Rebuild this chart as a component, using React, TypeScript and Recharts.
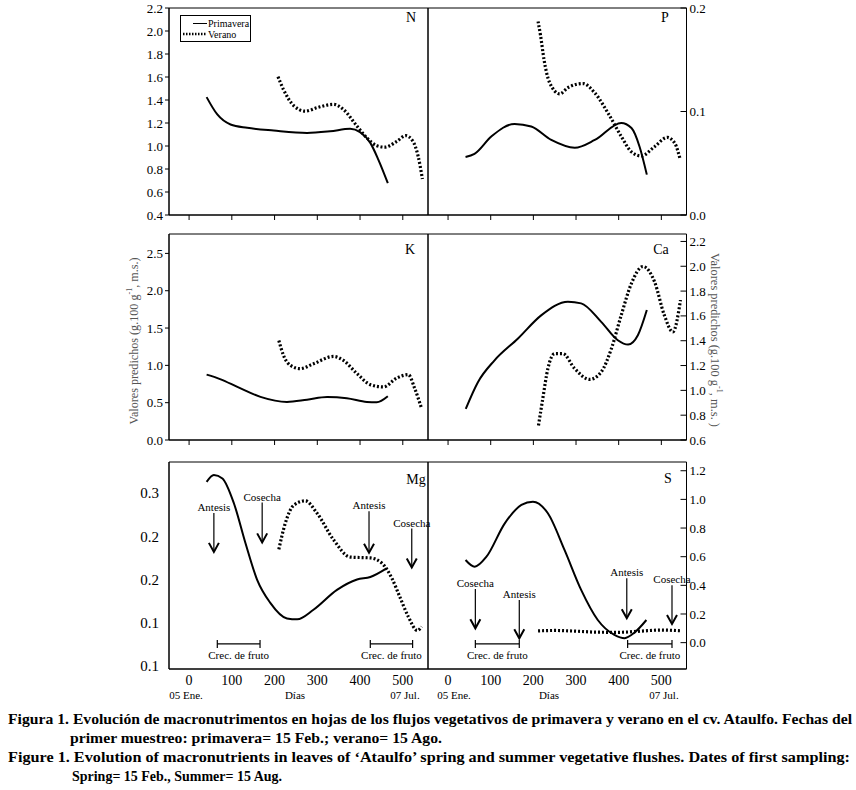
import React from 'react';
import { LineChart, Line, XAxis, YAxis, ReferenceArea, ReferenceLine } from 'recharts';

const FONT = 'Liberation Serif';
const X_DOMAIN: [number, number] = [-47, 559];
const dayTicks = [0, 100, 200, 300, 400, 500];

// N
const nSpringDays = [41, 66, 97, 136, 198, 276, 330, 377, 400, 424, 443, 465];
const nSpringVals = [1.425, 1.274, 1.187, 1.158, 1.134, 1.114, 1.128, 1.149, 1.12, 1.027, 0.88, 0.677];
const nSummerDays = [208, 221, 245, 272, 299, 338, 361, 393, 416, 439, 458, 486, 507, 524, 536, 546];
const nSummerVals = [1.603, 1.49, 1.35, 1.303, 1.333, 1.362, 1.318, 1.172, 1.07, 1.003, 0.99, 1.04, 1.09, 1.04, 0.91, 0.712];
const nTicks = [0.4, 0.6, 0.8, 1.0, 1.2, 1.4, 1.6, 1.8, 2.0, 2.2];

// P
const pSpringDays = [41, 62, 102, 156, 195, 242, 297, 344, 406, 430, 449, 466];
const pSpringVals = [0.056, 0.059, 0.076, 0.088, 0.0855, 0.0725, 0.065, 0.0725, 0.089, 0.084, 0.066, 0.039];
const pSummerDays = [211, 217, 225, 238, 262, 281, 316, 344, 375, 406, 430, 453, 484, 514, 532, 544];
const pSummerVals = [0.187, 0.173, 0.15, 0.128, 0.117, 0.123, 0.127, 0.118, 0.0985, 0.076, 0.061, 0.057, 0.066, 0.075, 0.069, 0.054];
const pTicks = [0, 0.1, 0.2];

// K
const kSpringDays = [41, 74, 113, 167, 229, 276, 323, 369, 416, 439, 465];
const kSpringVals = [0.876, 0.813, 0.711, 0.578, 0.51, 0.54, 0.575, 0.56, 0.51, 0.505, 0.585];
const kSummerDays = [210, 221, 237, 260, 291, 338, 361, 393, 424, 455, 486, 513, 528, 544];
const kSummerVals = [1.333, 1.133, 1.0, 0.956, 1.022, 1.12, 1.067, 0.889, 0.742, 0.711, 0.831, 0.876, 0.689, 0.422];
const kTicks = [0, 0.5, 1.0, 1.5, 2.0, 2.5];

// Ca
const caSpringDays = [41.5, 70, 109, 164, 219, 281, 312, 359, 398, 422, 445, 466];
const caSpringVals = [0.851, 1.066, 1.242, 1.418, 1.606, 1.714, 1.701, 1.552, 1.404, 1.369, 1.444, 1.647];
const caSummerDays = [212, 222, 234, 250, 269, 297, 332, 359, 383, 406, 430, 457, 484, 507, 527, 545];
const caSummerVals = [0.716, 0.932, 1.175, 1.296, 1.296, 1.175, 1.088, 1.148, 1.337, 1.606, 1.863, 1.998, 1.876, 1.606, 1.471, 1.728];
const caTicks = [0.6, 0.8, 1.0, 1.2, 1.4, 1.6, 1.8, 2.0, 2.2];

// Mg
const mgSpringDays = [41, 58, 78, 105, 132, 159, 190, 229, 253, 291, 346, 393, 424, 462];
const mgSpringVals = [0.263, 0.271, 0.267, 0.238, 0.192, 0.15, 0.123, 0.105, 0.104, 0.115, 0.138, 0.15, 0.153, 0.163];
const mgSummerDays = [210, 225, 245, 272, 299, 338, 377, 424, 451, 474, 493, 513, 534, 544];
const mgSummerVals = [0.185, 0.215, 0.236, 0.241, 0.227, 0.196, 0.176, 0.175, 0.169, 0.152, 0.13, 0.107, 0.091, 0.0955];
const mgTicks = [0.05, 0.1, 0.15, 0.2, 0.25];
const mgTickLabels = ['0.1', '0.1', '0.2', '0.2', '0.3'];

// S
const sSpringDays = [41, 62.5, 90, 133, 172, 199, 234, 273, 312, 351, 390, 414, 437, 465];
const sSpringVals = [0.577, 0.53, 0.6, 0.833, 0.961, 0.984, 0.903, 0.647, 0.368, 0.158, 0.054, 0.031, 0.07, 0.158];
const sSummerDays = [211, 250, 300, 350, 400, 450, 500, 544];
const sSummerVals = [0.082, 0.085, 0.08, 0.073, 0.072, 0.08, 0.088, 0.083];
const sTicks = [0, 0.2, 0.4, 0.6, 0.8, 1.0, 1.2];

// Phenology annotations
const mgArrowDays = [58, 171, 421, 521];
const mgArrowTops = [0.227, 0.239, 0.229, 0.209];
const mgArrowBottoms = [0.182, 0.193, 0.181, 0.164];
const mgArrowLabels = ['Antesis', 'Cosecha', 'Antesis', 'Cosecha'];
const mgBarStarts = [66, 424];
const mgBarEnds = [166, 523];
const mgBarLevel = 0.0755;

const sArrowDays = [64, 167, 419, 525];
const sArrowTops = [0.374, 0.298, 0.449, 0.401];
const sArrowBottoms = [0.1, 0.03, 0.17, 0.13];
const sArrowLabels = ['Cosecha', 'Antesis', 'Antesis', 'Cosecha'];
const sBarStarts = [64, 421];
const sBarEnds = [167, 525];
const sBarLevel = -0.009;

const zip = (d: number[], v: number[]) => d.map((day, i) => ({ day, v: v[i] }));

const fmt1 = (v: number) => v.toFixed(1);

const RightTick = (props: any) => {
  const { x, y, payload, fontSize } = props;
  const ax = x - 3;
  return (
    <g>
      <line x1={ax - 6} y1={y} x2={ax} y2={y} stroke="#000" strokeWidth={1} />
      <text x={x} y={y} dy="0.35em" textAnchor="start" fontSize={fontSize} fontFamily={FONT} fill="#000">
        {fmt1(payload.value)}
      </text>
    </g>
  );
};

const ArrowShape = (props: any) => {
  const { x1, y1, x2, y2, label } = props;
  return (
    <g>
      <line x1={x1} y1={y1} x2={x2} y2={y2} stroke="#000" strokeWidth={1.2} />
      <polyline points={`${x2 - 5},${y2 - 9} ${x2},${y2} ${x2 + 5},${y2 - 9}`} fill="none" stroke="#000" strokeWidth={2} />
      <text x={x1} y={y1 - 2} textAnchor="middle" fontSize={11} fontFamily={FONT} fill="#000">{label}</text>
    </g>
  );
};

const BarShape = (props: any) => {
  const { x1, y1, x2, y2 } = props;
  return (
    <g>
      <line x1={x1} y1={y1} x2={x2} y2={y2} stroke="#000" strokeWidth={1.2} />
      <line x1={x1} y1={y1 - 4} x2={x1} y2={y1 + 4} stroke="#000" strokeWidth={1.2} />
      <line x1={x2} y1={y2 - 4} x2={x2} y2={y2 + 4} stroke="#000" strokeWidth={1.2} />
      <text x={(x1 + x2) / 2} y={y1 + 15} textAnchor="middle" fontSize={11} fontFamily={FONT} fill="#000">Crec. de fruto</text>
    </g>
  );
};

type PanelProps = {
  side: 'left' | 'right';
  plotLeft: number;
  plotTop: number;
  plotW: number;
  plotH: number;
  yDomain: [number, number];
  yTicks: number[];
  yLabels?: string[];
  spring: { day: number; v: number }[];
  summer: { day: number; v: number }[];
  bottom?: boolean;
  yTickLine?: boolean;
  arrows?: { day: number; top: number; bottom: number; label: string }[];
  bars?: { start: number; end: number; level: number }[];
};

function Panel(p: PanelProps) {
  const YW = 50;
  const TOP = 10;
  const xAxisH = p.bottom ? 26 : 8;
  const margin = p.side === 'left' ? { top: TOP, right: 12, bottom: 0, left: 0 } : { top: TOP, right: 0, bottom: 0, left: 5 };
  const width = p.side === 'left' ? YW + p.plotW + 12 : 5 + p.plotW + YW;
  const height = TOP + p.plotH + xAxisH;
  const left = p.side === 'left' ? p.plotLeft - YW : p.plotLeft - 5;
  const tickFs = p.bottom ? 15 : 13;
  const yFormatter = (v: number, i: number) => (p.yLabels ? p.yLabels[i] : fmt1(v));
  return (
    <div style={{ position: 'absolute', left, top: p.plotTop - TOP }}>
      <LineChart width={width} height={height} margin={margin} style={{ fontFamily: FONT }}>
        <XAxis
          type="number"
          dataKey="day"
          domain={X_DOMAIN}
          ticks={dayTicks}
          interval={0}
          allowDataOverflow
          height={xAxisH}
          axisLine={{ stroke: '#000' }}
          tickLine={p.bottom ? false : { stroke: '#000' }}
          tickSize={p.bottom ? 0 : 5}
          tickMargin={p.bottom ? 6 : 0}
          tickFormatter={p.bottom ? (v: number) => String(v) : () => ''}
          tick={{ fontSize: 14, fill: '#000', fontFamily: FONT }}
        />
        {p.side === 'left' ? (
          <YAxis
            type="number"
            orientation="left"
            width={YW}
            domain={p.yDomain}
            ticks={p.yTicks}
            interval={0}
            allowDataOverflow
            axisLine={{ stroke: '#000' }}
            tickLine={p.yTickLine === false ? false : { stroke: '#000' }}
            tickSize={p.yTickLine === false ? 0 : 4}
            tickMargin={p.yTickLine === false ? 10 : 2}
            tickFormatter={yFormatter}
            tick={{ fontSize: tickFs, fill: '#000', fontFamily: FONT }}
          />
        ) : (
          <YAxis
            type="number"
            orientation="right"
            width={YW}
            domain={p.yDomain}
            ticks={p.yTicks}
            interval={0}
            allowDataOverflow
            axisLine={{ stroke: '#000' }}
            tickLine={false}
            tickSize={0}
            tickMargin={3}
            tick={(tp: any) => <RightTick {...tp} fontSize={13} />}
          />
        )}
        <ReferenceArea
          x1={X_DOMAIN[0]}
          x2={X_DOMAIN[1]}
          y1={p.yDomain[0]}
          y2={p.yDomain[1]}
          fill="none"
          fillOpacity={0}
          stroke="#000"
          strokeWidth={1}
          ifOverflow="visible"
        />
        <Line data={p.spring} dataKey="v" type="monotone" stroke="#000" strokeWidth={2} dot={false} isAnimationActive={false} />
        <Line data={p.summer} dataKey="v" type="monotone" stroke="#000" strokeWidth={3.2} strokeDasharray="2 2" dot={false} isAnimationActive={false} />
        {(p.arrows || []).map((a, i) => (
          <ReferenceLine
            key={'a' + i}
            segment={[{ x: a.day, y: a.top }, { x: a.day, y: a.bottom }]}
            ifOverflow="visible"
            stroke="#000"
            shape={(sp: any) => <ArrowShape {...sp} label={a.label} />}
          />
        ))}
        {(p.bars || []).map((b, i) => (
          <ReferenceLine
            key={'b' + i}
            segment={[{ x: b.start, y: b.level }, { x: b.end, y: b.level }]}
            ifOverflow="visible"
            stroke="#000"
            shape={(sp: any) => <BarShape {...sp} />}
          />
        ))}
      </LineChart>
    </div>
  );
}

const LEFT_X = 169;
const LEFT_W = 259;
const RIGHT_X = 428;
const RIGHT_W = 258.5;
const ROWS = [
  { top: 8, h: 207 },
  { top: 234, h: 206 },
  { top: 462, h: 207 },
];

const mgArrows = mgArrowDays.map((d, i) => ({ day: d, top: mgArrowTops[i], bottom: mgArrowBottoms[i], label: mgArrowLabels[i] }));
const sArrows = sArrowDays.map((d, i) => ({ day: d, top: sArrowTops[i], bottom: sArrowBottoms[i], label: sArrowLabels[i] }));
const mgBars = mgBarStarts.map((s, i) => ({ start: s, end: mgBarEnds[i], level: mgBarLevel }));
const sBars = sBarStarts.map((s, i) => ({ start: s, end: sBarEnds[i], level: sBarLevel }));

const captionLines = [
  { text: 'Figura 1. Evolución de macronutrimentos en hojas de los flujos vegetativos de primavera y verano en el cv. Ataulfo. Fechas del', x: 8, y: 724, w: 844 },
  { text: 'primer muestreo: primavera= 15 Feb.; verano= 15 Ago.', x: 70, y: 743, w: 372 },
  { text: 'Figure 1. Evolution of macronutrients in leaves of ‘Ataulfo’ spring and summer vegetative flushes. Dates of first sampling:', x: 8, y: 762, w: 842 },
  { text: 'Spring= 15 Feb., Summer= 15 Aug.', x: 72, y: 781, w: 210 },
];

export default function App() {
  return (
    <div style={{ position: 'absolute', left: 0, top: 0, width: 856, height: 790, background: '#fff', overflow: 'hidden', fontFamily: FONT }}>
      <Panel side="left" plotLeft={LEFT_X} plotTop={ROWS[0].top} plotW={LEFT_W} plotH={ROWS[0].h} yDomain={[0.4, 2.2]} yTicks={nTicks}
        spring={zip(nSpringDays, nSpringVals)} summer={zip(nSummerDays, nSummerVals)} />
      <Panel side="right" plotLeft={RIGHT_X} plotTop={ROWS[0].top} plotW={RIGHT_W} plotH={ROWS[0].h} yDomain={[0, 0.2]} yTicks={pTicks}
        spring={zip(pSpringDays, pSpringVals)} summer={zip(pSummerDays, pSummerVals)} />
      <Panel side="left" plotLeft={LEFT_X} plotTop={ROWS[1].top} plotW={LEFT_W} plotH={ROWS[1].h} yDomain={[0, 2.76]} yTicks={kTicks}
        spring={zip(kSpringDays, kSpringVals)} summer={zip(kSummerDays, kSummerVals)} />
      <Panel side="right" plotLeft={RIGHT_X} plotTop={ROWS[1].top} plotW={RIGHT_W} plotH={ROWS[1].h} yDomain={[0.6, 2.26]} yTicks={caTicks}
        spring={zip(caSpringDays, caSpringVals)} summer={zip(caSummerDays, caSummerVals)} />
      <Panel side="left" plotLeft={LEFT_X} plotTop={ROWS[2].top} plotW={LEFT_W} plotH={ROWS[2].h} yDomain={[0.0465, 0.286]} yTicks={mgTicks}
        yLabels={mgTickLabels} yTickLine={false} bottom
        spring={zip(mgSpringDays, mgSpringVals)} summer={zip(mgSummerDays, mgSummerVals)} arrows={mgArrows} bars={mgBars} />
      <Panel side="right" plotLeft={RIGHT_X} plotTop={ROWS[2].top} plotW={RIGHT_W} plotH={ROWS[2].h} yDomain={[-0.184, 1.261]} yTicks={sTicks}
        bottom
        spring={zip(sSpringDays, sSpringVals)} summer={zip(sSummerDays, sSummerVals)} arrows={sArrows} bars={sBars} />

      <svg width={856} height={790} style={{ position: 'absolute', left: 0, top: 0, pointerEvents: 'none', fontFamily: FONT }}>
        {/* panel letters */}
        <g fontSize={14} fill="#000" textAnchor="middle" dominantBaseline="central">
          <text x={411} y={17}>N</text>
          <text x={665} y={17}>P</text>
          <text x={410} y={249}>K</text>
          <text x={661} y={249}>Ca</text>
          <text x={416} y={479}>Mg</text>
          <text x={668} y={478}>S</text>
        </g>
        {/* legend */}
        <rect x={180.5} y={15.5} width={70} height={26} fill="#fff" stroke="#000" strokeWidth={1} />
        <line x1={193} y1={23.5} x2={207} y2={23.5} stroke="#000" strokeWidth={1} />
        <line x1={183} y1={34} x2={207} y2={34} stroke="#000" strokeWidth={2.5} strokeDasharray="1.5 1.5" />
        <text x={208} y={23.5} fontSize={10} dominantBaseline="central">Primavera</text>
        <text x={208} y={34} fontSize={10} dominantBaseline="central">Verano</text>
        {/* axis titles */}
        <text transform="translate(134,341) rotate(-90)" textAnchor="middle" dominantBaseline="central" fontSize={12} fill="#555"
          textLength={167} lengthAdjust="spacingAndGlyphs">
          Valores predichos (g.100 g<tspan fontSize={8} dy={-5}>-1</tspan><tspan dy={5}>, m.s.)</tspan>
        </text>
        <text transform="translate(715,340) rotate(90)" textAnchor="middle" dominantBaseline="central" fontSize={12} fill="#555"
          textLength={174} lengthAdjust="spacingAndGlyphs">
          Valores predichos (g.100 g<tspan fontSize={8} dy={-5}>-1</tspan><tspan dy={5}>, m.s. )</tspan>
        </text>
        {/* x sub labels */}
        <g fontSize={11} fill="#000" textAnchor="middle" dominantBaseline="central">
          <text x={186} y={695}>05 Ene.</text>
          <text x={295} y={695}>Días</text>
          <text x={405} y={695}>07 Jul.</text>
          <text x={454} y={695}>05 Ene.</text>
          <text x={549} y={695}>Días</text>
          <text x={664} y={695}>07 Jul.</text>
        </g>
        {/* caption */}
        <g fontSize={15} fontWeight="bold" fill="#000">
          {captionLines.map((c, i) => (
            <text key={i} x={c.x} y={c.y} textLength={c.w} lengthAdjust="spacingAndGlyphs">{c.text}</text>
          ))}
        </g>
      </svg>
    </div>
  );
}
